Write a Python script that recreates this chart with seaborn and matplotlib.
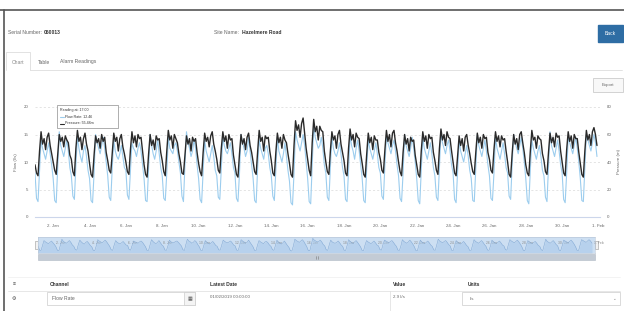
import numpy as np
import pandas as pd
import seaborn as sns
import matplotlib.pyplot as plt
import matplotlib.dates as mdates
from matplotlib.patches import Rectangle

W, H = 624, 311

# readings every 2 hours, 00:00 .. 22:00, one row per day (1 Jan .. 31 Jan)
flow_days = [
    [8.0, 3.4, 2.8, 8.5, 14.0, 12.5, 11.5, 10.5, 12.0, 13.5, 11.5, 9.5],
    [7.0, 3.0, 2.6, 9.0, 15.5, 13.0, 12.0, 11.0, 12.5, 14.0, 12.0, 9.0],
    [7.5, 3.8, 3.2, 9.5, 14.5, 12.5, 11.0, 10.0, 12.0, 13.0, 11.0, 8.5],
    [7.0, 3.0, 2.6, 8.0, 15.0, 13.5, 12.5, 11.5, 13.0, 14.5, 12.5, 10.0],
    [7.5, 3.6, 3.0, 9.0, 14.0, 12.0, 11.0, 10.5, 11.5, 13.0, 11.0, 9.0],
    [8.5, 4.0, 3.2, 8.5, 13.5, 12.5, 12.0, 11.0, 12.5, 13.5, 12.0, 9.5],
    [7.0, 3.0, 2.8, 9.0, 15.0, 13.0, 11.5, 10.5, 12.0, 14.0, 11.5, 9.0],
    [7.5, 3.4, 3.0, 8.0, 14.5, 12.5, 12.0, 11.5, 13.0, 13.5, 12.0, 10.0],
    [8.0, 3.8, 2.8, 9.5, 15.5, 13.5, 12.5, 11.0, 12.0, 14.0, 12.5, 9.5],
    [7.0, 3.2, 2.6, 8.5, 14.0, 12.0, 11.0, 10.0, 11.5, 13.0, 11.0, 8.5],
    [7.5, 3.6, 3.2, 9.0, 14.5, 13.0, 12.0, 11.5, 12.5, 13.5, 11.5, 9.0],
    [8.0, 3.4, 2.8, 8.0, 15.0, 13.5, 12.5, 11.0, 12.0, 14.5, 12.0, 9.5],
    [7.0, 3.0, 2.6, 9.0, 14.0, 12.5, 11.5, 10.5, 12.5, 13.0, 11.5, 9.0],
    [7.5, 3.8, 3.0, 8.5, 14.5, 12.0, 11.0, 10.0, 11.5, 13.5, 11.0, 8.5],
    [6.5, 2.6, 2.2, 8.0, 15.5, 14.0, 13.0, 12.0, 13.5, 15.0, 13.0, 10.0],
    [7.0, 2.8, 2.4, 9.5, 16.5, 14.5, 13.5, 12.5, 13.0, 14.5, 12.5, 9.5],
    [8.0, 3.6, 3.0, 9.0, 14.5, 12.5, 11.5, 11.0, 12.0, 13.5, 11.5, 9.0],
    [7.5, 3.2, 2.8, 8.5, 15.0, 13.0, 12.0, 10.5, 12.5, 14.0, 12.0, 9.5],
    [7.0, 3.0, 2.6, 9.0, 14.0, 12.5, 11.5, 10.5, 12.0, 13.5, 11.5, 9.0],
    [8.0, 3.8, 3.2, 9.5, 14.5, 13.5, 12.5, 11.5, 13.0, 14.0, 12.0, 9.5],
    [7.5, 3.4, 2.8, 8.0, 15.0, 13.0, 12.0, 11.0, 12.5, 14.5, 12.5, 10.0],
    [7.0, 3.0, 2.4, 8.5, 14.5, 12.5, 11.5, 10.5, 12.0, 13.5, 11.5, 9.0],
    [7.5, 3.6, 3.0, 9.0, 15.5, 13.5, 12.5, 11.5, 13.0, 14.0, 12.0, 9.5],
    [8.0, 3.2, 2.6, 8.5, 14.0, 12.0, 11.0, 10.0, 11.5, 13.0, 11.0, 8.5],
    [7.0, 3.0, 2.8, 9.0, 15.0, 13.0, 12.0, 11.0, 12.5, 14.0, 12.0, 9.5],
    [7.5, 3.4, 3.0, 8.0, 14.5, 12.5, 11.5, 10.5, 12.0, 13.5, 11.5, 9.0],
    [8.0, 3.8, 3.2, 9.5, 15.0, 13.5, 12.5, 11.5, 13.0, 14.5, 12.5, 10.0],
    [7.0, 3.0, 2.4, 8.5, 14.0, 12.5, 11.5, 10.5, 12.0, 13.0, 11.0, 8.5],
    [7.5, 3.6, 2.8, 9.0, 15.5, 13.0, 12.0, 11.0, 12.5, 14.0, 12.0, 9.5],
    [8.0, 3.2, 2.6, 8.0, 14.5, 13.5, 12.5, 11.5, 13.0, 14.5, 12.5, 10.0],
    [7.0, 3.0, 2.8, 9.0, 15.0, 14.0, 13.0, 12.0, 13.5, 15.0, 13.5, 11.0],
]
pressure_days = [
    [38, 32, 30, 48, 62, 53, 57, 49, 58, 61, 52, 46],
    [40, 34, 31, 46, 60, 55, 58, 51, 59, 56, 54, 45],
    [42, 33, 30, 50, 63, 55, 58, 49, 57, 61, 53, 48],
    [39, 31, 29, 45, 59, 54, 57, 50, 60, 55, 58, 47],
    [41, 34, 32, 47, 61, 55, 58, 48, 57, 60, 51, 46],
    [40, 33, 31, 49, 62, 54, 59, 51, 60, 57, 58, 48],
    [38, 31, 29, 46, 60, 52, 56, 49, 59, 56, 57, 47],
    [41, 33, 30, 48, 63, 56, 59, 50, 60, 57, 54, 46],
    [40, 32, 31, 45, 59, 53, 57, 48, 58, 55, 57, 47],
    [39, 33, 30, 47, 61, 55, 58, 51, 59, 62, 53, 48],
    [42, 34, 32, 50, 62, 55, 59, 50, 60, 56, 57, 45],
    [38, 31, 29, 46, 60, 53, 57, 49, 58, 61, 52, 47],
    [40, 33, 31, 48, 63, 55, 58, 48, 59, 57, 58, 48],
    [41, 32, 30, 47, 61, 54, 58, 50, 60, 56, 54, 46],
    [39, 31, 29, 52, 70, 63, 67, 58, 68, 72, 61, 50],
    [42, 34, 30, 54, 71, 62, 66, 56, 66, 63, 62, 48],
    [40, 33, 31, 48, 62, 56, 59, 50, 60, 63, 53, 47],
    [41, 32, 30, 50, 64, 56, 60, 51, 61, 58, 57, 46],
    [39, 31, 29, 46, 61, 54, 58, 49, 59, 56, 56, 47],
    [42, 34, 32, 49, 63, 55, 60, 51, 61, 63, 54, 48],
    [40, 33, 30, 47, 60, 53, 57, 48, 58, 55, 56, 45],
    [38, 31, 29, 48, 62, 55, 59, 50, 60, 57, 58, 47],
    [41, 34, 31, 50, 64, 56, 60, 52, 62, 58, 57, 48],
    [40, 32, 30, 45, 59, 52, 57, 48, 58, 60, 52, 46],
    [39, 33, 31, 47, 61, 54, 58, 50, 60, 57, 58, 47],
    [42, 34, 32, 49, 62, 55, 59, 51, 59, 56, 57, 48],
    [40, 31, 29, 46, 60, 53, 57, 49, 60, 62, 54, 47],
    [38, 32, 30, 48, 63, 56, 58, 50, 59, 57, 56, 46],
    [41, 33, 31, 47, 61, 54, 58, 51, 61, 58, 59, 48],
    [40, 32, 30, 49, 62, 55, 59, 50, 60, 57, 57, 47],
    [39, 31, 29, 48, 63, 56, 60, 52, 62, 65, 60, 52],
]

tick_dates = ["2019-01-02", "2019-01-04", "2019-01-06", "2019-01-08",
              "2019-01-10", "2019-01-12", "2019-01-14", "2019-01-16",
              "2019-01-18", "2019-01-20", "2019-01-22", "2019-01-24",
              "2019-01-26", "2019-01-28", "2019-01-30", "2019-02-01"]
tick_labels = ["2. Jan", "4. Jan", "6. Jan", "8. Jan", "10. Jan", "12. Jan",
               "14. Jan", "16. Jan", "18. Jan", "20. Jan", "22. Jan",
               "24. Jan", "26. Jan", "28. Jan", "30. Jan", "1. Feb"]
flow_ticks = [0, 5, 10, 15, 20]
pressure_ticks = [0, 20, 40, 60, 80]

times = pd.date_range("2019-01-01", periods=len(flow_days) * 12, freq="2h")
df = pd.DataFrame({"time": times,
                   "flow": np.ravel(flow_days),
                   "pressure": np.ravel(pressure_days)})

sns.set_theme(style="white")
plt.rcParams["font.family"] = ["Liberation Sans", "DejaVu Sans"]

GREY = "#666666"
FS = 3.6
BLUE = "#9ccdee"


def box(x, y, w, h):
    return [x / W, 1 - (y + h) / H, w / W, h / H]


fig = plt.figure(figsize=(W / 100, H / 100), dpi=100, facecolor="white")

# page background in pixel coordinates
bg = fig.add_axes([0, 0, 1, 1], zorder=0)
bg.set_xlim(0, W)
bg.set_ylim(H, 0)
bg.axis("off")

bg.plot([0, W], [9.5, 9.5], color="#555555", lw=1.2)
bg.plot([3.5, 3.5], [9.5, H], color="#555555", lw=1.2)

bg.text(8, 33, "Serial Number:", fontsize=FS, color=GREY, va="center")
bg.text(44, 33, "060013", fontsize=FS, color="#333333", va="center", weight="bold")
bg.text(214, 33, "Site Name:", fontsize=FS, color=GREY, va="center")
bg.text(242, 33, "Hazelmere Road", fontsize=FS, color="#333333", va="center", weight="bold")

bg.add_patch(Rectangle((598, 25), 25, 17, facecolor="#2e6da4", edgecolor="#2e6da4"))
bg.text(610.5, 33.5, "Back", fontsize=FS, color="white", ha="center", va="center")

# tabs
bg.plot([6, 6, 30, 30], [70, 52, 52, 70], color="#dddddd", lw=0.6)
bg.plot([30, 622], [70, 70], color="#dddddd", lw=0.6)
bg.text(18, 62, "Chart", fontsize=FS, color="#888888", ha="center", va="center")
bg.text(38, 62, "Table", fontsize=FS, color=GREY, va="center")
bg.text(60, 62, "Alarm Readings", fontsize=FS, color=GREY, va="center")

bg.add_patch(Rectangle((593, 78), 30, 14, facecolor="#f8f8f8", edgecolor="#cccccc", lw=0.6))
bg.text(608, 85, "Export", fontsize=FS - 0.4, color=GREY, ha="center", va="center")

# main chart
ax = fig.add_axes(box(35, 107, 565, 110), zorder=2)
ax.patch.set_alpha(0)
sns.lineplot(data=df, x="time", y="flow", ax=ax, color=BLUE, lw=0.8)
ax.set_ylim(0, 20)
ax.set_xlim(mdates.date2num(pd.Timestamp("2019-01-01")),
            mdates.date2num(pd.Timestamp("2019-02-01 02:00")))
ax.set_yticks(flow_ticks)
ax.set_yticklabels([str(v) for v in flow_ticks], fontsize=FS - 0.4, color=GREY)
ax.set_xticks(mdates.date2num(pd.to_datetime(tick_dates)))
ax.set_xticklabels(tick_labels, fontsize=FS - 0.4, color=GREY)
ax.tick_params(axis="y", length=0, pad=5)
ax.tick_params(axis="x", length=2, width=0.5, color="#ccd6eb", pad=3)
ax.grid(axis="y", color="#d9d9d9", lw=0.5, ls=(0, (3, 3)))
ax.set_ylabel("Flow (l/s)", fontsize=FS - 0.4, color=GREY, labelpad=4)
ax.set_xlabel("")
for s in ["top", "left", "right"]:
    ax.spines[s].set_visible(False)
ax.spines["bottom"].set_color("#ccd6eb")
ax.spines["bottom"].set_linewidth(0.8)

ax2 = ax.twinx()
sns.lineplot(data=df, x="time", y="pressure", ax=ax2, color="#2a2a2a", lw=1.0)
ax2.set_ylim(0, 80)
ax2.set_yticks(pressure_ticks)
ax2.set_yticklabels([str(v) for v in pressure_ticks], fontsize=FS - 0.4, color=GREY)
ax2.tick_params(axis="y", length=0, pad=5)
ax2.set_ylabel("Pressure (m)", fontsize=FS - 0.4, color=GREY, labelpad=4)
for s in ax2.spines.values():
    s.set_visible(False)

# navigator
nav = fig.add_axes(box(38, 237, 557, 16), zorder=2)
nav.set_facecolor("#cddff2")
nav.fill_between(mdates.date2num(df["time"]), df["flow"], color="#a9c9ea", alpha=0.6, lw=0)
sns.lineplot(data=df, x="time", y="flow", ax=nav, color="#7fa6d3", lw=0.35)
nav.set_ylim(0, 18)
nav.set_xlim(ax.get_xlim())
nav.set_xticks(mdates.date2num(pd.to_datetime(tick_dates)))
nav.set_xticklabels(tick_labels, fontsize=2.4, color="#8a8a8a", ha="left")
nav.tick_params(axis="x", direction="in", length=16, width=0.3, color="#e6e6e6", pad=-9)
nav.set_yticks([])
nav.set_xlabel("")
nav.set_ylabel("")
for s in nav.spines.values():
    s.set_color("#b7c4d4")
    s.set_linewidth(0.4)

bg.add_patch(Rectangle((35, 241), 3, 8, facecolor="#f2f2f2", edgecolor="#999999", lw=0.4, zorder=5))
bg.add_patch(Rectangle((595, 241), 3, 8, facecolor="#f2f2f2", edgecolor="#999999", lw=0.4, zorder=5))
bg.add_patch(Rectangle((38, 254), 557, 6, facecolor="#c3cbd5", edgecolor="#b0b9c4", lw=0.4))
bg.plot([316, 316], [255.5, 258.5], color="#777777", lw=0.4)
bg.plot([318, 318], [255.5, 258.5], color="#777777", lw=0.4)

# table
bg.plot([8, 620], [277, 277], color="#eeeeee", lw=0.5)
bg.plot([8, 620], [291, 291], color="#dddddd", lw=0.5)
bg.text(14, 284, "\u2261", fontsize=FS, color="#444444", ha="center", va="center")
bg.text(50, 284, "Channel", fontsize=FS, color="#333333", va="center", weight="bold")
bg.text(210, 284, "Latest Date", fontsize=FS, color="#333333", va="center", weight="bold")
bg.text(393, 284, "Value", fontsize=FS, color="#333333", va="center", weight="bold")
bg.text(468, 284, "Units", fontsize=FS, color="#333333", va="center", weight="bold")

bg.text(14, 298, "\u2699", fontsize=FS, color="#444444", ha="center", va="center")
bg.add_patch(Rectangle((47, 292), 148, 13, facecolor="white", edgecolor="#cccccc", lw=0.5))
bg.text(52, 298.5, "Flow Rate", fontsize=FS, color=GREY, va="center")
bg.add_patch(Rectangle((184, 292), 11, 13, facecolor="#f4f4f4", edgecolor="#cccccc", lw=0.5))
bg.text(189.5, 298.5, "\u25a6", fontsize=FS, color="#555555", ha="center", va="center")
bg.text(210, 297, "01/02/2019 00:00:00", fontsize=FS - 0.4, color=GREY, va="center")
bg.plot([390, 390], [291, H], color="#dddddd", lw=0.5)
bg.text(393, 297, "2.9 l/s", fontsize=FS - 0.4, color=GREY, va="center")
bg.add_patch(Rectangle((462, 292), 158, 13, facecolor="white", edgecolor="#cccccc", lw=0.5))
bg.text(470, 298.5, "l/s", fontsize=FS - 0.4, color=GREY, va="center")
bg.text(614, 298.5, "\u2304", fontsize=FS - 0.4, color="#888888", ha="center", va="center")

# tooltip box over the chart
top = fig.add_axes([0, 0, 1, 1], zorder=5)
top.set_xlim(0, W)
top.set_ylim(H, 0)
top.axis("off")
top.add_patch(Rectangle((57, 105), 61, 23, facecolor="white", edgecolor="#888888", lw=0.5, alpha=0.95))
top.text(60, 110, "Reading at: 17:00", fontsize=2.6, color="#333333", va="center")
top.plot([60, 64], [117, 117], color=BLUE, lw=0.8)
top.text(65, 117, "Flow Rate: 12.46", fontsize=2.6, color="#333333", va="center")
top.plot([60, 64], [123.5, 123.5], color="#2a2a2a", lw=0.8)
top.text(65, 123.5, "Pressure: 55.48m", fontsize=2.6, color="#333333", va="center")

fig.savefig("out.png", dpi=100)
